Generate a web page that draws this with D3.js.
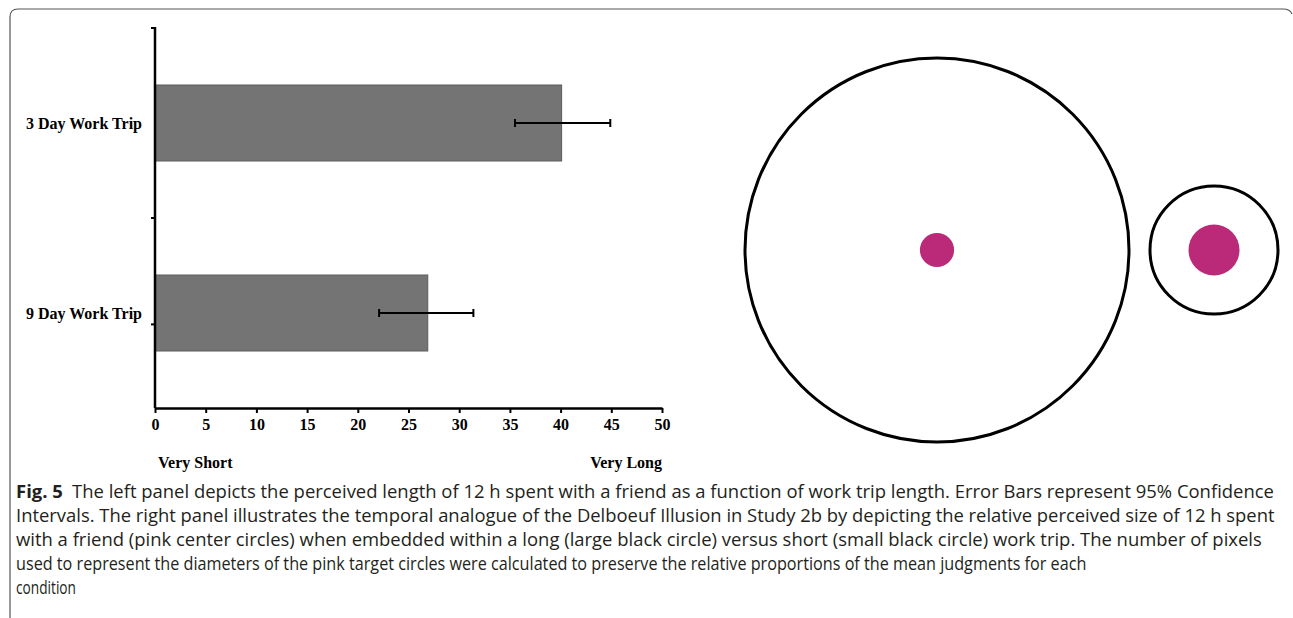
<!DOCTYPE html>
<html>
<head>
<meta charset="utf-8">
<script src="https://cdn.jsdelivr.net/npm/d3@7"></script>
<style>
  html, body { margin: 0; padding: 0; background: #fff; }
  svg { display: block; }
</style>
</head>
<body>
<svg id="fig" width="1293" height="618"></svg>
<script>
// Study 2b: perceived length of 12 h with a friend, by work trip length
const categories = ["3 Day Work Trip", "9 Day Work Trip"];
const tripDays = [3, 9];
const means = [40.1, 26.9];
const ciLow = [35.5, 22.1];
const ciHigh = [44.9, 31.4];
const xTicks = [0, 5, 10, 15, 20, 25, 30, 35, 40, 45, 50];
const anchorLabels = ["Very Short", "Very Long"];

const captionLines = [
  ["Fig. 5", "The left panel depicts the perceived length of 12 h spent with a friend as a function of work trip length. Error Bars represent 95% Confidence"],
  ["", "Intervals. The right panel illustrates the temporal analogue of the Delboeuf Illusion in Study 2b by depicting the relative perceived size of 12 h spent"],
  ["", "with a friend (pink center circles) when embedded within a long (large black circle) versus short (small black circle) work trip. The number of pixels"],
  ["", "used to represent the diameters of the pink target circles were calculated to preserve the relative proportions of the mean judgments for each"],
  ["", "condition"]
];
const captionWidths = [1259, 1260, 1246, 1071, 60];

const svg = d3.select("#fig");

// figure frame (open at the bottom)
svg.append("path")
  .attr("d", "M10,622 L10,17 Q10,9 18,9 L1283,9 Q1290,9 1292,14")
  .attr("fill", "none")
  .attr("stroke", "#555")
  .attr("stroke-width", 1.2);

// ---------- left panel: bar chart ----------
const plot = { left: 155, right: 662, top: 28, bottom: 408 };
const serif = "'Liberation Serif', 'Times New Roman', serif";
const serifSize = 16;

const x = d3.scaleLinear().domain([0, 50]).range([plot.left, plot.right]);
const y = d3.scaleBand().domain(categories).range([plot.top, plot.bottom])
  .paddingInner(0.6).paddingOuter(0.3);
const yIdx = d3.scaleLinear().domain([0, categories.length]).range([plot.top, plot.bottom]);

const g = svg.append("g");

// bars
g.selectAll("rect.bar").data(categories).join("rect")
  .attr("class", "bar")
  .attr("x", x(0))
  .attr("y", d => y(d))
  .attr("width", (d, i) => x(means[i]) - x(0))
  .attr("height", y.bandwidth())
  .attr("fill", "#737473")
  .attr("stroke", "#5c5c5c")
  .attr("stroke-width", 1);

// error bars
const eb = g.selectAll("g.err").data(categories).join("g").attr("class", "err");
eb.append("line")
  .attr("x1", (d, i) => x(ciLow[i])).attr("x2", (d, i) => x(ciHigh[i]))
  .attr("y1", d => y(d) + y.bandwidth() / 2).attr("y2", d => y(d) + y.bandwidth() / 2)
  .attr("stroke", "#000").attr("stroke-width", 2);
[ciLow, ciHigh].forEach(arr => {
  eb.append("line")
    .attr("x1", (d, i) => x(arr[i])).attr("x2", (d, i) => x(arr[i]))
    .attr("y1", d => y(d) + y.bandwidth() / 2 - 4).attr("y2", d => y(d) + y.bandwidth() / 2 + 4)
    .attr("stroke", "#000").attr("stroke-width", 2);
});

// x axis
const xAxis = d3.axisBottom(x).tickValues(xTicks).tickSize(5).tickSizeOuter(0).tickPadding(6);
const xg = g.append("g").attr("transform", `translate(0,${plot.bottom})`).call(xAxis);
xg.select(".domain").attr("stroke", "#000").attr("stroke-width", 2.5);
xg.selectAll(".tick line").attr("stroke", "#000").attr("stroke-width", 2);
xg.selectAll(".tick text")
  .attr("font-family", serif).attr("font-weight", "bold").attr("font-size", serifSize)
  .attr("fill", "#000");

// y axis line with category boundary ticks
g.append("line")
  .attr("x1", plot.left).attr("x2", plot.left)
  .attr("y1", plot.top - 1).attr("y2", plot.bottom)
  .attr("stroke", "#000").attr("stroke-width", 2.5);
const yTickPos = [0, 1, 1.56];
g.selectAll("line.ytick").data(yTickPos).join("line")
  .attr("class", "ytick")
  .attr("x1", plot.left - 4).attr("x2", plot.left)
  .attr("y1", d => yIdx(d)).attr("y2", d => yIdx(d))
  .attr("stroke", "#000").attr("stroke-width", 2);

// category labels
g.selectAll("text.cat").data(categories).join("text")
  .attr("class", "cat")
  .attr("x", plot.left - 13)
  .attr("y", d => y(d) + y.bandwidth() / 2)
  .attr("dy", "0.35em")
  .attr("text-anchor", "end")
  .attr("font-family", serif).attr("font-weight", "bold").attr("font-size", serifSize)
  .text(d => d);

// scale anchor labels
g.selectAll("text.anchor").data(anchorLabels).join("text")
  .attr("class", "anchor")
  .attr("x", (d, i) => i === 0 ? x(0) + 3 : x(50))
  .attr("y", 468)
  .attr("text-anchor", (d, i) => i === 0 ? "start" : "end")
  .attr("font-family", serif).attr("font-weight", "bold").attr("font-size", serifSize)
  .text(d => d);

// ---------- right panel: Delboeuf illusion ----------
const ringR = d3.scaleLinear().domain([0, 9]).range([0, 192]);
const dotR = d3.scaleLinear().domain([0, 40.1]).range([0, 25.5]);
const centersX = [1214, 937];
const centerY = 250;

const rp = svg.append("g");
const units = rp.selectAll("g.unit").data(categories).join("g")
  .attr("class", "unit")
  .attr("transform", (d, i) => `translate(${centersX[i]},${centerY})`);
units.append("circle")
  .attr("r", (d, i) => ringR(tripDays[i]))
  .attr("fill", "none")
  .attr("stroke", "#000")
  .attr("stroke-width", 3);
units.append("circle")
  .attr("r", (d, i) => dotR(means[i]))
  .attr("fill", "#ba2a78");

// ---------- caption (condensed horizontally to each line's set width) ----------
const cap = svg.append("g")
  .attr("font-family", "'Open Sans', 'Noto Sans', sans-serif")
  .attr("font-size", 18.5)
  .attr("fill", "#231f20");
captionLines.forEach((ln, i) => {
  const row = cap.append("g").attr("transform", `translate(16,${498 + i * 24})`);
  const t = row.append("text").attr("x", 0).attr("y", 0);
  if (ln[0]) {
    t.append("tspan").attr("font-weight", "bold").text(ln[0] + "\u2002");
  }
  t.append("tspan").text(ln[1]);
  const natural = t.node().getComputedTextLength();
  const sx = Math.min(1, captionWidths[i] / natural);
  t.attr("transform", `scale(${sx},1)`);
});
</script>
</body>
</html>
